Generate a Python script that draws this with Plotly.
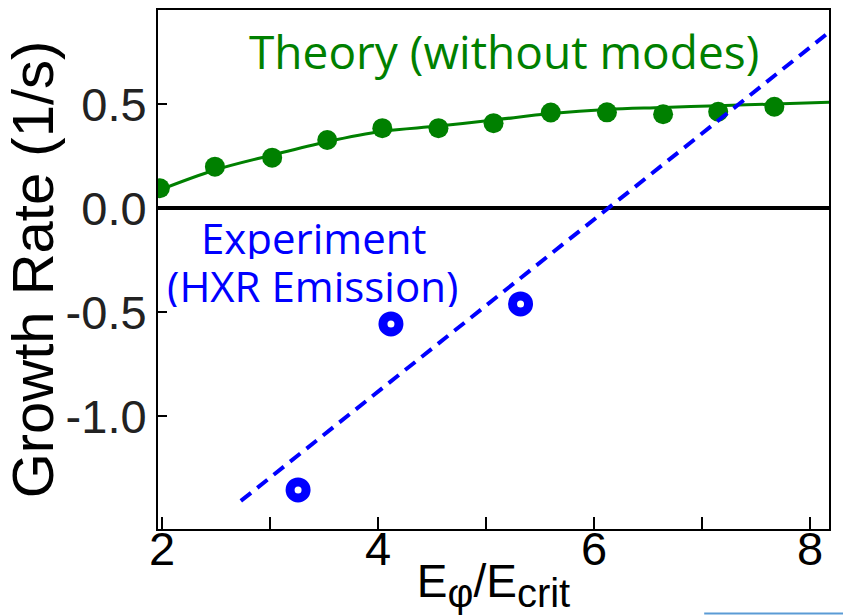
import plotly.graph_objects as go

# Theory curve (smooth line)
curve_x = [1.98, 2.49, 3.02, 3.53, 4.04, 4.56, 5.07, 5.60, 6.12, 6.64, 7.15, 7.67, 8.18]
curve_y = [0.088, 0.184, 0.256, 0.320, 0.370, 0.395, 0.424, 0.455, 0.475, 0.484, 0.493, 0.501, 0.509]

# Theory points
theory_x = [1.98, 2.49, 3.02, 3.53, 4.04, 4.56, 5.07, 5.60, 6.12, 6.64, 7.15, 7.67]
theory_y = [0.096, 0.200, 0.243, 0.328, 0.385, 0.385, 0.409, 0.460, 0.461, 0.452, 0.464, 0.488]

# Experiment points
exp_x = [3.26, 4.12, 5.32]
exp_y = [-1.354, -0.556, -0.460]

# Experiment linear fit (dashed)
fit_x = [2.73, 8.176]
fit_y = [-1.407, 0.846]

x_tickvals = [2, 4, 6, 8]
x_ticktext = ["2", "4", "6", "8"]
x_minor_vals = [3, 5, 7]
y_tickvals = [-1.0, -0.5, 0.0, 0.5]
y_ticktext = ["-1.0", "-0.5", "0.0", "0.5"]

GREEN = "#008000"
BLUE = "#0000ff"

fig = go.Figure()
fig.add_trace(go.Scatter(x=curve_x, y=curve_y, mode="lines",
                         line=dict(color=GREEN, width=3, shape="spline"),
                         showlegend=False, hoverinfo="skip"))
fig.add_trace(go.Scatter(x=theory_x, y=theory_y, mode="markers",
                         marker=dict(color=GREEN, size=20, symbol="circle",
                                     line=dict(width=0)),
                         showlegend=False))
fig.add_trace(go.Scatter(x=fit_x, y=fit_y, mode="lines",
                         line=dict(color=BLUE, width=4, dash="13px,8px"),
                         showlegend=False, hoverinfo="skip"))
fig.add_trace(go.Scatter(x=exp_x, y=exp_y, mode="markers",
                         marker=dict(color=BLUE, size=16, symbol="circle-open",
                                     line=dict(width=9, color=BLUE)),
                         showlegend=False))

ann_font = "Open Sans"
fig.add_annotation(x=5.17, y=0.754, xref="x", yref="y", text="Theory (without modes)",
                   showarrow=False, font=dict(family=ann_font, size=46, color=GREEN),
                   xanchor="center", yanchor="middle")
fig.add_annotation(x=3.41, y=-0.14, xref="x", yref="y", text="Experiment",
                   showarrow=False, font=dict(family=ann_font, size=42, color=BLUE),
                   xanchor="center", yanchor="middle", height=44)
fig.add_annotation(x=3.396, y=-0.369, xref="x", yref="y", text="(HXR Emission)",
                   showarrow=False, font=dict(family=ann_font, size=42, color=BLUE),
                   xanchor="center", yanchor="middle", height=44)

# small light-blue stroke at the bottom edge of the image
fig.add_shape(type="line", xref="paper", yref="paper", x0=0.814, x1=1.03, y0=-0.163, y1=-0.163,
              line=dict(color="#5b9bd5", width=2))

x_title = ("E<sub><span style='font-size:40px'>φ</span></sub>/"
           "E<sub><span style='font-size:40px'>crit</span></sub>")

fig.update_layout(
    width=843, height=615,
    margin=dict(l=158, r=14, t=10, b=86),
    paper_bgcolor="white", plot_bgcolor="white",
    font=dict(family="Liberation Sans, Arial, sans-serif", color="black"),
    xaxis=dict(range=[1.963, 8.176], tickvals=x_tickvals, ticktext=x_ticktext,
               ticks="inside", ticklen=12, tickwidth=1.5, tickcolor="black",
               minor=dict(tickvals=x_minor_vals, ticks="inside", ticklen=12,
                          tickwidth=1.5, tickcolor="black", showgrid=False),
               showgrid=False, zeroline=False, showline=True, linecolor="black",
               linewidth=2, mirror=True, automargin=False,
               ticklabelstandoff=-22,
               tickfont=dict(size=47, color="black"),
               title=dict(text=x_title, standoff=0,
                          font=dict(size=46, color="black"))),
    yaxis=dict(range=[-1.542, 0.953], tickvals=y_tickvals, ticktext=y_ticktext,
               ticks="inside", ticklen=9, tickwidth=1.5, tickcolor="black",
               showgrid=False, zeroline=True, zerolinecolor="black", zerolinewidth=3.5,
               showline=True, linecolor="black", linewidth=2, mirror=True,
               automargin=False,
               tickfont=dict(size=47, color="#222222"),
               title=dict(text="Growth Rate (1/s)", standoff=2,
                          font=dict(size=58, color="black"))),
)

fig.write_html("out.html")
